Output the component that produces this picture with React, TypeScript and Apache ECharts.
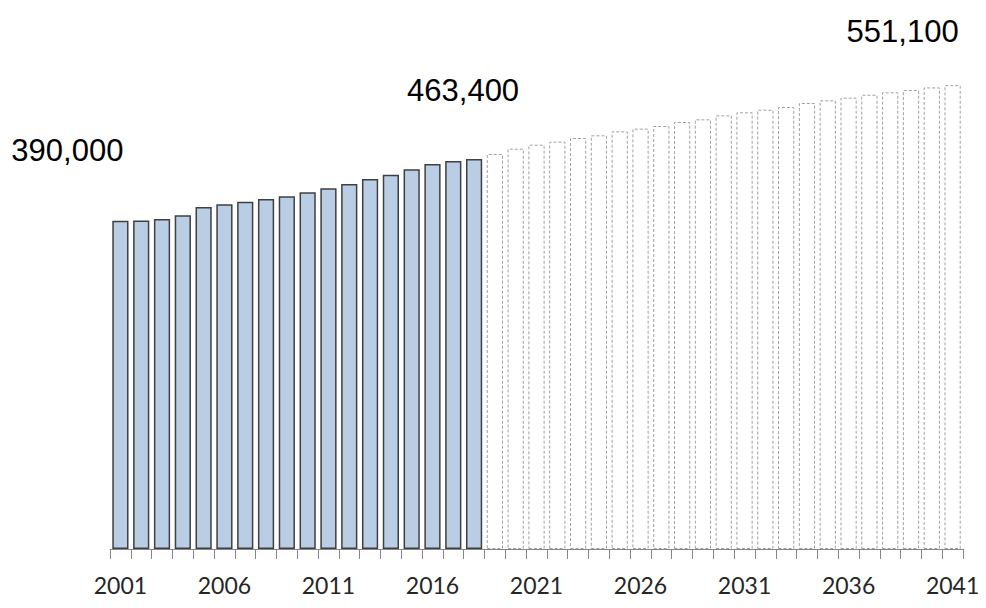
import React, { useEffect, useRef } from "react";
import * as echarts from "echarts";

const years: string[] = [
  "2001", "2002", "2003", "2004", "2005", "2006", "2007", "2008", "2009", "2010",
  "2011", "2012", "2013", "2014", "2015", "2016", "2017", "2018", "2019", "2020",
  "2021", "2022", "2023", "2024", "2025", "2026", "2027", "2028", "2029", "2030",
  "2031", "2032", "2033", "2034", "2035", "2036", "2037", "2038", "2039", "2040",
  "2041",
];

// 2001–2018 (observed)
const historical: number[] = [
  390000, 390300, 392100, 396500, 406300, 409500, 412600, 415800, 419000, 423800,
  428500, 433600, 439600, 444700, 451100, 457400, 461000, 463400,
];

// 2019–2041 (projected)
const projected: number[] = [
  469300, 475600, 480400, 483900, 488300, 491500, 496200, 499400, 502600, 507300,
  510500, 515200, 518800, 521900, 525100, 529900, 533000, 536200, 539700, 542600,
  545300, 548400, 551100,
];

const labelled: { year: string; offset: [number, number] }[] = [
  { year: "2001", offset: [-53, -70] },
  { year: "2018", offset: [-11, -68] },
  { year: "2041", offset: [-50, -54] },
];

export default function App() {
  const ref = useRef<HTMLDivElement>(null);

  useEffect(() => {
    if (!ref.current) return;
    const chart = echarts.init(ref.current, undefined, { renderer: "svg" });

    const histStyle = {
      color: "#b9cde5",
      borderColor: "#404040",
      borderWidth: 1.5,
    };
    const projStyle = {
      color: "#ffffff",
      borderColor: "#a0a0a0",
      borderWidth: 1,
      borderType: [3, 2] as any,
    };

    const all = [...historical, ...projected];
    const data = all.map((v, i) => {
      const isHist = i < historical.length;
      const lab = labelled.find((l) => l.year === years[i]);
      const item: any = {
        value: v,
        itemStyle: isHist ? histStyle : projStyle,
      };
      if (lab) {
        item.label = {
          show: true,
          position: ["50%", 0],
          align: "center",
          verticalAlign: "middle",
          offset: lab.offset,
          fontFamily: "Liberation Sans, Arial, sans-serif",
          fontSize: 31,
          color: "#000000",
          formatter: (p: any) => Number(p.value).toLocaleString("en-US"),
        };
      }
      return item;
    });

    chart.setOption({
      animation: false,
      backgroundColor: "#ffffff",
      grid: { left: 110, right: 23, top: 44, bottom: 59 },
      xAxis: {
        type: "category",
        data: years,
        boundaryGap: true,
        axisLine: { show: true, lineStyle: { color: "#868686", width: 1 } },
        axisTick: {
          show: true,
          interval: 0,
          length: 10,
          lineStyle: { color: "#868686", width: 1 },
        },
        axisLabel: {
          interval: 4,
          margin: 24,
          fontFamily: "Lato, 'Open Sans', sans-serif",
          fontSize: 23,
          color: "#262626",
        },
        splitLine: { show: false },
      },
      yAxis: {
        type: "value",
        min: 0,
        max: 600000,
        show: false,
        splitLine: { show: false },
      },
      series: [
        {
          type: "bar",
          data,
          barCategoryGap: "22%",
          label: { show: false },
        },
      ],
    });

    return () => chart.dispose();
  }, []);

  return (
    <div
      ref={ref}
      style={{ position: "fixed", left: 0, top: 0, width: 986, height: 608 }}
    />
  );
}
